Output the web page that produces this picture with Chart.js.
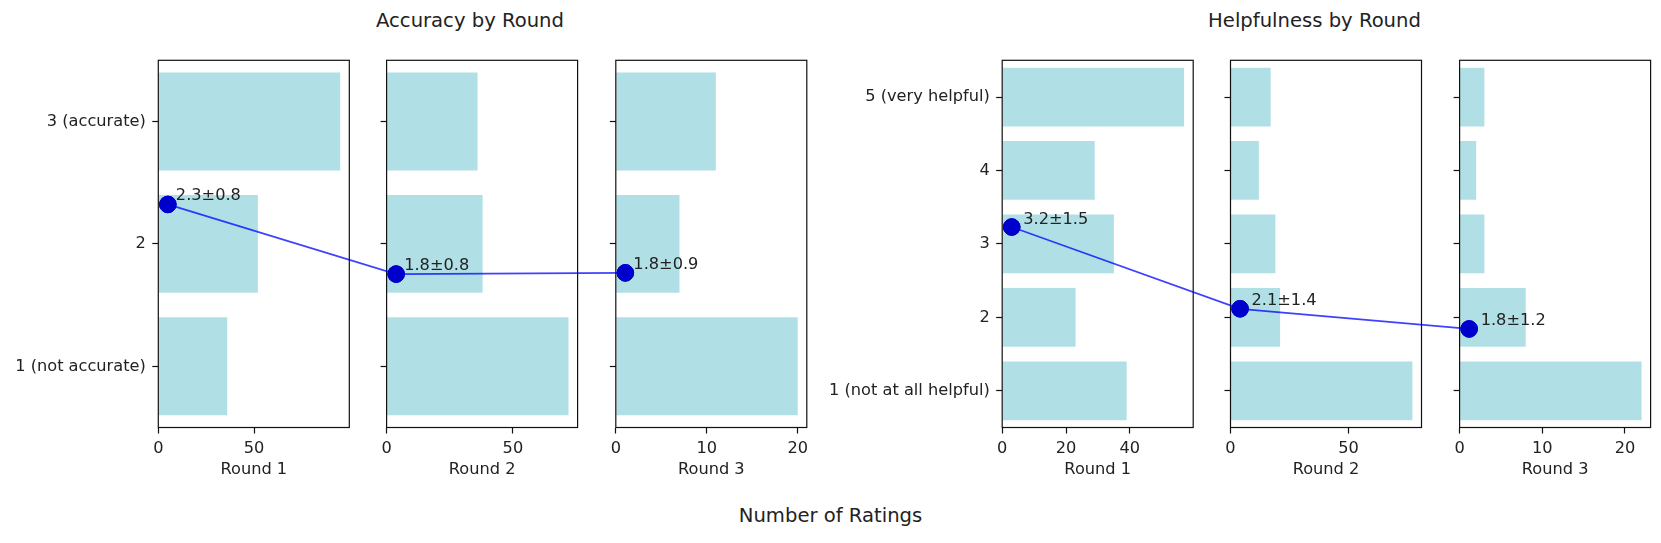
<!DOCTYPE html>
<html>
<head>
<meta charset="utf-8">
<title>Ratings by Round</title>
<script src="https://cdn.jsdelivr.net/npm/chart.js@4.4.1/dist/chart.umd.min.js"></script>
<style>
  html, body { margin: 0; padding: 0; background: #fff; }
  #fig { position: relative; width: 1661px; height: 543px; overflow: hidden; font-family: 'DejaVu Sans', sans-serif; color: #222; }
  #fig canvas { position: absolute; left: 0; top: 0; }
  .label { position: absolute; white-space: nowrap; font-size: 19.6px; line-height: 19.6px; transform: translateX(-50%); }
</style>
</head>
<body>
<div id="fig">
  <div class="label" style="left:470px; top:11px">Accuracy by Round</div>
  <div class="label" style="left:1314.5px; top:11px">Helpfulness by Round</div>
  <div class="label" style="left:830.5px; top:506px">Number of Ratings</div>
</div>
<script>
// data
const rounds = ['Round 1', 'Round 2', 'Round 3'];

const accuracyLevels = [1, 2, 3];
const accuracyLabels = ['1 (not accurate)', '2', '3 (accurate)'];
const accuracyCounts = [
    [36, 52, 95],
    [72, 38, 36],
    [20, 7, 11]
];
const accuracyTicks = [[0, 50], [0, 50], [0, 10, 20]];

const helpfulnessLevels = [1, 2, 3, 4, 5];
const helpfulnessLabels = ['1 (not at all helpful)', '2', '3', '4', '5 (very helpful)'];
const helpfulnessCounts = [
    [39, 23, 35, 29, 57],
    [77, 21, 19, 12, 17],
    [22, 8, 3, 2, 3]
];
const helpfulnessTicks = [[0, 20, 40], [0, 50], [0, 10, 20]];

// layout / style
const FIG_W = 1661, FIG_H = 543;
const PANEL_W = 191, PANEL_TOP = 60.3, PANEL_BOTTOM = 427.5, X_AXIS_H = 52.2;
const BAR_COLOR = '#B0E0E6', DOT_COLOR = '#0000CD', LINE_COLOR = 'rgba(0,0,255,0.75)';
const TEXT = '#222', AXIS = '#111';
const FONT = "'DejaVu Sans', sans-serif";

Chart.defaults.font.family = FONT;
Chart.defaults.font.size = 16.2;
Chart.defaults.color = TEXT;

const groups = [
    { levels: accuracyLevels, labels: accuracyLabels, counts: accuracyCounts, ticks: accuracyTicks,
      lefts: [158.3, 386.6, 615.8], textDx: 8, textDy: -4 },
    { levels: helpfulnessLevels, labels: helpfulnessLabels, counts: helpfulnessCounts, ticks: helpfulnessTicks,
      lefts: [1002.2, 1230.5, 1459.6], textDx: 11.5, textDy: -3.5 }
];

const fig = document.getElementById('fig');

function meanSd(levels, counts) {
    const n = counts.reduce((a, b) => a + b, 0);
    const mean = levels.reduce((a, l, i) => a + l * counts[i], 0) / n;
    const v = levels.reduce((a, l, i) => a + counts[i] * (l - mean) ** 2, 0) / n;
    return { mean, sd: Math.sqrt(v) };
}

const framePlugin = {
    id: 'frame',
    afterDatasetsDraw(chart) {
        const { ctx, chartArea: a } = chart;
        ctx.save();
        ctx.strokeStyle = AXIS;
        ctx.lineWidth = 1.2;
        ctx.strokeRect(a.left, a.top, a.right - a.left, a.bottom - a.top);
        ctx.restore();
    }
};

function makePanel(g, r) {
    const canvas = document.createElement('canvas');
    canvas.width = FIG_W;
    canvas.height = FIG_H;
    fig.appendChild(canvas);

    const counts = g.counts[r];
    const xMax = Math.max(...counts) * 1.05;
    const stats = meanSd(g.levels, counts);
    const left = g.lefts[r];
    const yW = r === 0 ? left - 2 : 10;

    const chart = new Chart(canvas, {
        type: 'bar',
        data: {
            datasets: [
                {
                    type: 'bar',
                    data: g.levels.map((lv, i) => ({ x: counts[i], y: lv })),
                    backgroundColor: BAR_COLOR,
                    borderWidth: 0,
                    barPercentage: 0.8,
                    categoryPercentage: 1,
                    order: 1
                },
                {
                    type: 'scatter',
                    indexAxis: 'x',
                    data: [{ x: xMax * 0.05, y: stats.mean }],
                    backgroundColor: DOT_COLOR,
                    borderColor: DOT_COLOR,
                    borderWidth: 1,
                    pointRadius: 8.3,
                    clip: false,
                    order: 0
                }
            ]
        },
        options: {
            indexAxis: 'y',
            responsive: false,
            animation: false,
            events: [],
            layout: {
                padding: {
                    left: left - yW,
                    right: FIG_W - left - PANEL_W,
                    top: PANEL_TOP,
                    bottom: FIG_H - PANEL_BOTTOM - X_AXIS_H
                }
            },
            plugins: { legend: { display: false }, tooltip: { enabled: false } },
            scales: {
                x: {
                    type: 'linear',
                    min: 0,
                    max: xMax,
                    offset: false,
                    afterBuildTicks: s => { s.ticks = g.ticks[r].map(v => ({ value: v })); },
                    afterFit: s => { s.height = X_AXIS_H; },
                    grid: { offset: false, drawOnChartArea: false, drawTicks: true, tickLength: 6, tickColor: AXIS, tickWidth: 1.2 },
                    border: { display: false },
                    ticks: { padding: 5.5, color: TEXT },
                    title: { display: true, text: rounds[r], padding: 0, color: TEXT }
                },
                y: {
                    type: 'linear',
                    min: 0.5,
                    max: g.levels.length + 0.5,
                    offset: false,
                    afterBuildTicks: s => { s.ticks = g.levels.map(v => ({ value: v })); },
                    afterFit: s => { s.width = yW; },
                    grid: { offset: false, drawOnChartArea: false, drawTicks: true, tickLength: 6, tickColor: AXIS, tickWidth: 1.2 },
                    border: { display: false },
                    ticks: {
                        display: r === 0,
                        padding: 6.5,
                        color: TEXT,
                        callback: v => g.labels[g.levels.indexOf(v)]
                    }
                }
            }
        },
        plugins: [framePlugin]
    });
    chart.$stats = stats;
    return chart;
}

const panels = groups.map(g => rounds.map((_, r) => makePanel(g, r)));

// overlay: line joining the round means, dots and their labels
const overlay = document.createElement('canvas');
const dpr = window.devicePixelRatio || 1;
overlay.width = FIG_W * dpr;
overlay.height = FIG_H * dpr;
overlay.style.width = FIG_W + 'px';
overlay.style.height = FIG_H + 'px';
fig.appendChild(overlay);
const octx = overlay.getContext('2d');
octx.scale(dpr, dpr);

groups.forEach((g, gi) => {
    const charts = panels[gi];
    const pts = charts.map(c => c.getDatasetMeta(1).data[0]);
    octx.save();
    octx.strokeStyle = LINE_COLOR;
    octx.lineWidth = 1.7;
    octx.beginPath();
    pts.forEach((p, i) => (i ? octx.lineTo(p.x, p.y) : octx.moveTo(p.x, p.y)));
    octx.stroke();
    pts.forEach(p => p.draw(octx));
    octx.fillStyle = TEXT;
    octx.font = '16.2px ' + FONT;
    octx.textBaseline = 'alphabetic';
    pts.forEach((p, i) => {
        const s = charts[i].$stats;
        octx.fillText(s.mean.toFixed(1) + '\u00b1' + s.sd.toFixed(1), p.x + g.textDx, p.y + g.textDy);
    });
    octx.restore();
});
</script>
</body>
</html>
